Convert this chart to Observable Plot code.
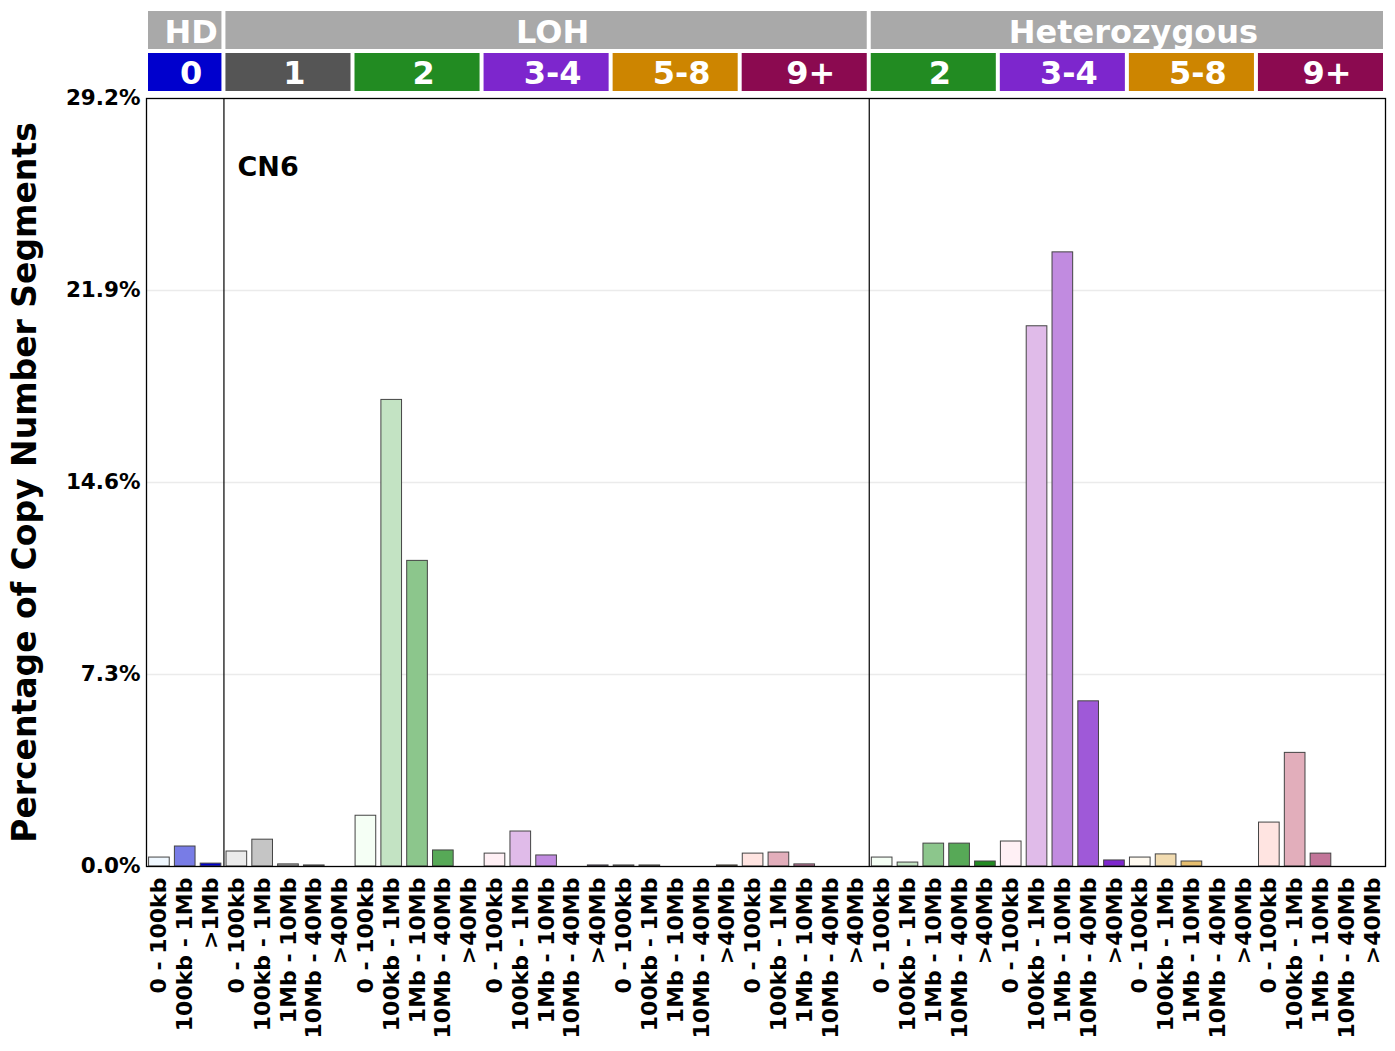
<!DOCTYPE html>
<html><head><meta charset="utf-8">
<script src="https://cdn.jsdelivr.net/npm/d3@7"></script>
<script src="https://cdn.jsdelivr.net/npm/@observablehq/plot@0.6"></script>
<style>body{margin:0;background:#fff;font-family:"DejaVu Sans";} svg{display:block}</style>
</head><body><div id="chart"></div>
<script>
const signature = "CN6";
const yTitle = "Percentage of Copy Number Segments";
const hdSizes = ["0 - 100kb", "100kb - 1Mb", ">1Mb"];
const sizes = ["0 - 100kb", "100kb - 1Mb", "1Mb - 10Mb", "10Mb - 40Mb", ">40Mb"];
const sectionNames = ["HD", "LOH", "Heterozygous"];
const hdGroups = ["0"];
const lohGroups = ["1", "2", "3-4", "5-8", "9+"];
const hetGroups = ["2", "3-4", "5-8", "9+"];

// values in percent
const hd0 = [0.34, 0.76, 0.11];
const loh1 = [0.57, 1.02, 0.08, 0.04, 0];
const loh2 = [1.93, 17.74, 11.62, 0.61, 0];
const loh34 = [0.49, 1.33, 0.42, 0, 0.04];
const loh58 = [0.04, 0.04, 0, 0, 0.04];
const loh9 = [0.49, 0.53, 0.08, 0, 0];
const het2 = [0.34, 0.15, 0.87, 0.87, 0.19];
const het34 = [0.95, 20.54, 23.35, 6.28, 0.23];
const het58 = [0.34, 0.46, 0.19, 0, 0];
const het9 = [1.67, 4.32, 0.49, 0, 0];

const yTicks = [0, 7.3, 14.6, 21.9, 29.2];

const groupColors = {"0": "#0000CD", "1": "#555555", "2": "#228B22", "3-4": "#7D26CD", "5-8": "#CD8500", "9+": "#8B0A50"};
const shades = {
  "0": ["#F0F8FF", "#787CE6", "#0000CD"],
  "1": ["#EBEBEB", "#C5C5C5", "#9F9F9F", "#797979", "#555555"],
  "2": ["#F5FFF5", "#C3E3C3", "#8CC68C", "#57A957", "#228B22"],
  "3-4": ["#FFF0F5", "#E0BBE9", "#C18BE0", "#9F59D8", "#7D26CD"],
  "5-8": ["#FFFAF0", "#F2DCB1", "#E6BE6E", "#D9A02F", "#CD8500"],
  "9+": ["#FFE4E1", "#E2AEBB", "#C27599", "#A63F74", "#8B0A50"]
};

const spec = [
  {section: "HD", cn: hdGroups[0], sizes: hdSizes, values: hd0},
  {section: "LOH", cn: lohGroups[0], sizes, values: loh1},
  {section: "LOH", cn: lohGroups[1], sizes, values: loh2},
  {section: "LOH", cn: lohGroups[2], sizes, values: loh34},
  {section: "LOH", cn: lohGroups[3], sizes, values: loh58},
  {section: "LOH", cn: lohGroups[4], sizes, values: loh9},
  {section: "Heterozygous", cn: hetGroups[0], sizes, values: het2},
  {section: "Heterozygous", cn: hetGroups[1], sizes, values: het34},
  {section: "Heterozygous", cn: hetGroups[2], sizes, values: het58},
  {section: "Heterozygous", cn: hetGroups[3], sizes, values: het9}
];

const bars = [];
const cnBlocks = [];
let idx = 0;
for (const g of spec) {
  const start = idx;
  g.sizes.forEach((s, k) => {
    bars.push({i: idx, section: g.section, cn: g.cn, size: s, value: g.values[k], color: shades[g.cn][k]});
    idx++;
  });
  cnBlocks.push({cn: g.cn, section: g.section, x1: start, x2: idx, color: groupColors[g.cn]});
}
const sectionBlocks = sectionNames.map(name => {
  const b = bars.filter(d => d.section === name);
  return {name, x1: d3.min(b, d => d.i), x2: d3.max(b, d => d.i) + 1};
});
const boundaries = sectionBlocks.slice(1).map(d => d.x1);

const W = 1395;
const xDomain = [0, bars.length];
const font = "DejaVu Sans";

const header = Plot.plot({
  width: W, height: 96, marginTop: 10, marginBottom: 5, marginLeft: 146, marginRight: 10,
  style: {fontFamily: font, background: "white"},
  x: {domain: xDomain, axis: null},
  y: {domain: ["section", "cn"], axis: null, paddingInner: 0.1, paddingOuter: 0},
  color: {type: "identity"},
  marks: [
    Plot.barX(sectionBlocks, {x1: "x1", x2: "x2", y: () => "section", fill: "#A9A9A9", insetLeft: 2, insetRight: 2}),
    Plot.text(sectionBlocks, {x: d => (d.x1 + d.x2) / 2, y: () => "section", text: "name", fill: "white", fontSize: 32, fontWeight: "bold", dy: 2, dx: 6}),
    Plot.barX(cnBlocks, {x1: "x1", x2: "x2", y: () => "cn", fill: "color", insetLeft: 2, insetRight: 2}),
    Plot.text(cnBlocks, {x: d => (d.x1 + d.x2) / 2, y: () => "cn", text: "cn", fill: "white", fontSize: 32, fontWeight: "bold", dy: 1, dx: 6})
  ]
});

const main = Plot.plot({
  width: W, height: 955, marginTop: 2, marginBottom: 185, marginLeft: 146, marginRight: 10,
  style: {fontFamily: font, background: "white", overflow: "visible"},
  x: {domain: xDomain, axis: null},
  y: {domain: [0, 29.2], axis: null},
  color: {type: "identity"},
  marks: [
    Plot.gridY(yTicks.slice(1, -1), {stroke: "#ebebeb", strokeOpacity: 1, strokeWidth: 1.5}),
    Plot.rectY(bars.filter(d => d.value > 0), {x1: d => d.i + 0.1, x2: d => d.i + 0.9, y1: 0, y2: "value", fill: "color", stroke: "#444", strokeWidth: 1}),
    Plot.ruleX(boundaries, {stroke: "black", strokeWidth: 1.2}),
    Plot.frame({stroke: "black", strokeWidth: 1.3}),
    Plot.axisY(yTicks, {tickSize: 0, tickPadding: 6, tickFormat: d => d.toFixed(1) + "%", fontSize: 21.5, fontWeight: "bold", fill: "black", label: null}),
    Plot.text(bars, {x: d => d.i + 0.5, y: () => 0, text: "size", rotate: -90, textAnchor: "end", lineAnchor: "middle", dy: 11, fontSize: 22, fontWeight: "bold", fill: "black"}),
    Plot.text([yTitle], {frameAnchor: "left", rotate: -90, dx: -121, textAnchor: "middle", fontSize: 33, fontWeight: "bold", fill: "black", lineAnchor: "middle"}),
    Plot.text([signature], {frameAnchor: "top-left", dx: 91, dy: 69, textAnchor: "start", lineAnchor: "middle", fontSize: 27, fontWeight: "bold", fill: "black"})
  ]
});

const chart = document.getElementById("chart");
chart.appendChild(header);
chart.appendChild(main);
</script>
</body></html>
